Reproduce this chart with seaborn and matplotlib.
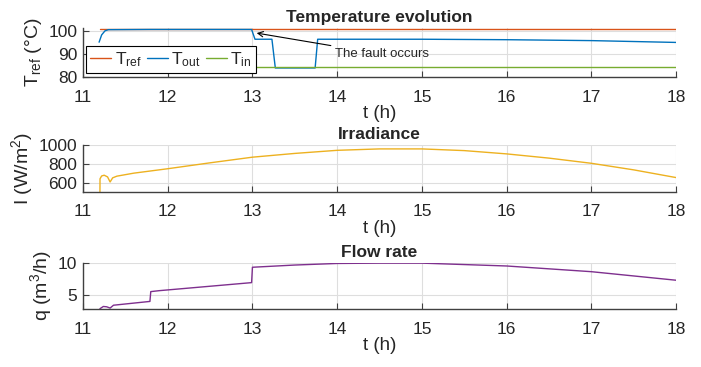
#!/usr/bin/env python
import pandas as pd
import matplotlib
matplotlib.use("Agg")
import matplotlib.pyplot as plt
import seaborn as sns

# values
t_ref_t = [11.2, 18.0]
t_ref_v = [101.2, 101.2]

t_out_t = [11.19, 11.22, 11.26, 11.30, 11.8, 12.99, 13.03, 13.23, 13.27, 13.74, 13.77, 14.5, 15.0, 16.0, 17.0, 18.0]
t_out_v = [95.3, 98.5, 100.3, 100.8, 100.9, 100.9, 96.6, 96.6, 84.0, 84.0, 96.6, 96.6, 96.6, 96.4, 96.0, 95.2]

t_in_t = [11.2, 18.0]
t_in_v = [84.2, 84.2]

irr_t = [11.2, 11.201, 11.22, 11.25, 11.29, 11.32, 11.35, 11.4, 11.6, 12.0, 12.5, 13.0, 13.5, 14.0, 14.5, 15.0, 15.5, 16.0, 16.5, 17.0, 17.5, 18.0]
irr_v = [500, 640, 670, 678, 660, 606, 650, 668, 700, 747, 810, 870, 910, 943, 958, 958, 940, 905, 860, 805, 735, 653]

q_t = [11.2, 11.24, 11.28, 11.32, 11.36, 11.79, 11.8, 11.9, 12.99, 13.0, 13.5, 14.0, 14.5, 15.0, 16.0, 17.0, 18.0]
q_v = [2.85, 3.2, 3.15, 2.95, 3.4, 4.0, 5.55, 5.7, 6.97, 9.4, 9.75, 10.0, 10.05, 10.05, 9.6, 8.7, 7.35]

xticks = [11, 12, 13, 14, 15, 16, 17, 18]

sns.set_style("whitegrid")
plt.rcParams['font.family'] = ['Liberation Sans', 'DejaVu Sans']
plt.rcParams['mathtext.fontset'] = 'custom'
plt.rcParams['mathtext.rm'] = 'Liberation Sans'
plt.rcParams['mathtext.it'] = 'Liberation Sans'

fig = plt.figure(figsize=(7.01, 3.67), dpi=100)
left, width = 0.1184, 0.846
ax1 = fig.add_axes([left, 0.790, width, 0.1335])
ax2 = fig.add_axes([left, 0.477, width, 0.128])
ax3 = fig.add_axes([left, 0.158, width, 0.125])

lw = 1.0
sns.lineplot(x=t_ref_t, y=t_ref_v, ax=ax1, color='#D95319', lw=lw, label=r'$\mathrm{T_{ref}}$')
sns.lineplot(x=t_out_t, y=t_out_v, ax=ax1, color='#0072BD', lw=lw, label=r'$\mathrm{T_{out}}$')
sns.lineplot(x=t_in_t, y=t_in_v, ax=ax1, color='#77AC30', lw=lw, label=r'$\mathrm{T_{in}}$')
sns.lineplot(x=irr_t, y=irr_v, ax=ax2, color='#EDB120', lw=lw)
sns.lineplot(x=q_t, y=q_v, ax=ax3, color='#7E2F8E', lw=lw)

ax1.set_ylim(80, 101.5)
ax1.set_yticks([80, 90, 100])
ax2.set_ylim(500, 1000)
ax2.set_yticks([600, 800, 1000])
ax3.set_ylim(2.8, 10.05)
ax3.set_yticks([5, 10])

titles = ['Temperature evolution', 'Irradiance', 'Flow rate']
ylabels = [r'$\mathrm{T_{ref}}$ (°C)', r'I (W/m$^2$)', r'q (m$^3$/h)']
for ax, ttl, yl in zip([ax1, ax2, ax3], titles, ylabels):
    ax.set_xlim(11, 18)
    ax.set_xticks(xticks)
    ax.set_title(ttl, fontsize=12.5, fontweight='bold', pad=4.5)
    ax.set_xlabel('t (h)', fontsize=13.5, color='#262626', labelpad=0.5)
    ax.set_ylabel(yl, fontsize=14, color='#262626', labelpad=3)
    ax.grid(True, color='#dedede', lw=0.8)
    for s in ['top', 'right']:
        ax.spines[s].set_visible(False)
    for s in ['left', 'bottom']:
        ax.spines[s].set_visible(True)
        ax.spines[s].set_color('#404040')
        ax.spines[s].set_linewidth(1.0)
    ax.tick_params(direction='in', length=4, width=0.8, color='#404040',
                   labelsize=12.5, labelcolor='#262626', left=True, bottom=True)
    ax.tick_params(axis='x', pad=9)
    ax.tick_params(axis='y', pad=4)

leg = ax1.legend(ncol=3, loc='lower left', bbox_to_anchor=(0.005, 0.08), fontsize=12.5,
                 frameon=True, fancybox=False, edgecolor='black', framealpha=1,
                 handlelength=1.2, handletextpad=0.2, columnspacing=0.3,
                 borderpad=0.25, borderaxespad=0)
leg.get_frame().set_linewidth(0.8)

ax1.annotate('The fault occurs', xy=(13.05, 99.3), xytext=(13.98, 90), fontsize=9.5,
             va='center', ha='left',
             arrowprops=dict(arrowstyle='->', color='black', lw=0.8, shrinkA=1, shrinkB=0))

fig.savefig('out.png', dpi=100)
